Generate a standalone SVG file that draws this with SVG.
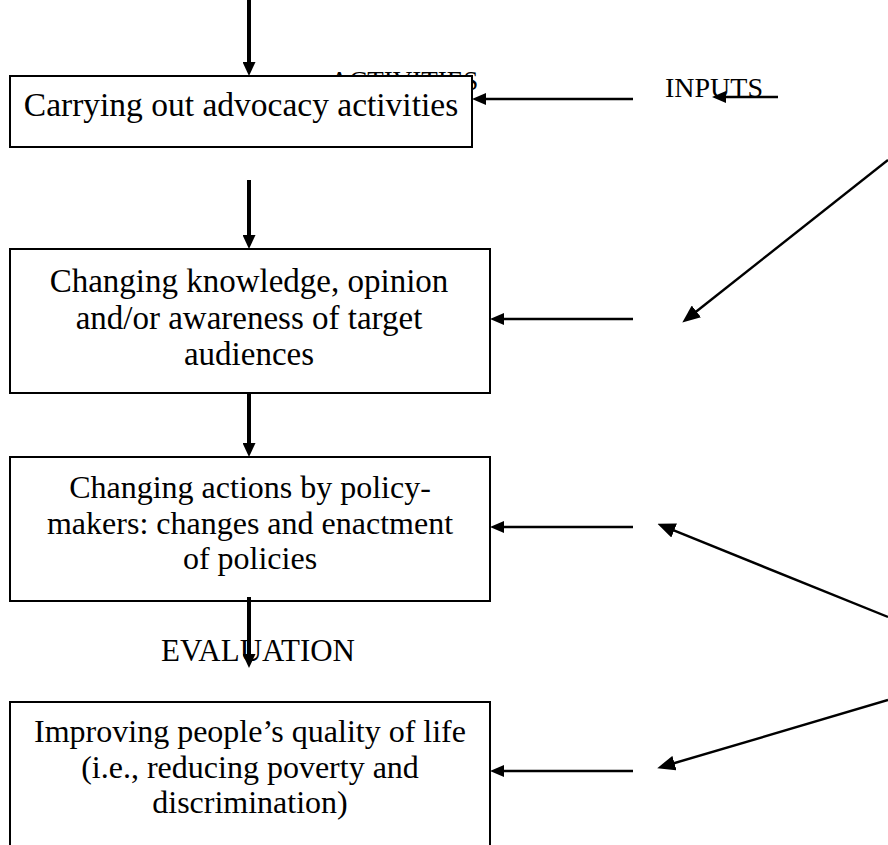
<svg xmlns="http://www.w3.org/2000/svg" width="888" height="845" viewBox="0 0 888 845">
  <style>
    .box { fill: #fff; stroke: #000; stroke-width: 2; }
    .txt { font-family: "Liberation Serif", "Times New Roman", serif; font-size: 32px; fill: #000; text-anchor: middle; }
    .lbl { font-family: "Liberation Serif", "Times New Roman", serif; font-size: 30px; fill: #000; }
    .v { stroke: #000; stroke-width: 4; fill: none; marker-end: url(#headV); }
    .h { stroke: #000; stroke-width: 2.5; fill: none; marker-end: url(#headH); }
    .d { stroke: #000; stroke-width: 2.4; fill: none; marker-end: url(#headD); }
  </style>
  <defs>
    <marker id="headV" markerUnits="userSpaceOnUse" viewBox="0 0 14 13" markerWidth="14" markerHeight="13" refX="4" refY="6.5" orient="auto">
      <path d="M0,0 L14,6.5 L0,13 z" fill="#000"/>
    </marker>
    <marker id="headH" markerUnits="userSpaceOnUse" viewBox="0 0 14 12" markerWidth="14" markerHeight="12" refX="4" refY="6" orient="auto">
      <path d="M0,0 L14,6 L0,12 z" fill="#000"/>
    </marker>
    <marker id="headD" markerUnits="userSpaceOnUse" viewBox="0 0 18 15" markerWidth="18" markerHeight="15" refX="5" refY="7.5" orient="auto">
      <path d="M0,0 L18,7.5 L0,15 z" fill="#000"/>
    </marker>
  </defs>

  <!-- heading mostly covered by the first box -->
  <g id="label-activities">
    <text class="lbl" x="404" y="90" style="font-size:27px" text-anchor="middle">ACTIVITIES</text>
  </g>

  <g id="node-advocacy">
    <rect class="box" x="10" y="76" width="462" height="71"/>
    <text class="txt" x="241" y="116" style="font-size:33.5px">Carrying out advocacy activities</text>
  </g>

  <g id="node-knowledge">
    <rect class="box" x="10" y="249" width="480" height="144"/>
    <text class="txt" x="249" y="292" style="font-size:33px">Changing knowledge, opinion</text>
    <text class="txt" x="249" y="329" style="font-size:33px">and/or awareness of target</text>
    <text class="txt" x="249" y="365" style="font-size:33px">audiences</text>
  </g>

  <g id="node-policy">
    <rect class="box" x="10" y="457" width="480" height="144"/>
    <text class="txt" x="250" y="498">Changing actions by policy-</text>
    <text class="txt" x="250" y="534">makers: changes and enactment</text>
    <text class="txt" x="250" y="569">of policies</text>
  </g>

  <g id="node-quality">
    <rect class="box" x="10" y="702" width="480" height="170"/>
    <text class="txt" x="250" y="742">Improving people’s quality of life</text>
    <text class="txt" x="250" y="778">(i.e., reducing poverty and</text>
    <text class="txt" x="250" y="813">discrimination)</text>
  </g>

  <g id="label-inputs">
    <text class="lbl" x="665" y="97" style="font-size:28px">INPUTS</text>
  </g>

  <g id="label-evaluation">
    <text class="lbl" x="258" y="661" style="font-size:31px" text-anchor="middle">EVALUATION</text>
  </g>

  <g id="connectors">
    <!-- main vertical flow -->
    <line class="v" x1="249" y1="0" x2="249" y2="66"/>
    <line class="v" x1="249" y1="180" x2="249" y2="239"/>
    <line class="v" x1="249" y1="393" x2="249" y2="447"/>
    <line class="v" x1="249" y1="597" x2="249" y2="658"/>
    <!-- side inputs -->
    <line class="h" x1="633" y1="99" x2="482" y2="99"/>
    <line class="h" x1="633" y1="319" x2="500" y2="319"/>
    <line class="h" x1="633" y1="527" x2="500" y2="527"/>
    <line class="h" x1="633" y1="771" x2="500" y2="771"/>
    <line class="h" x1="778" y1="97" x2="722" y2="97"/>
    <!-- diagonal feeds from the right -->
    <line class="d" x1="888" y1="160" x2="692.5" y2="314.5"/>
    <line class="d" x1="888" y1="617" x2="669.5" y2="528.7"/>
    <line class="d" x1="888" y1="700" x2="669.7" y2="764.5"/>
  </g>
</svg>
